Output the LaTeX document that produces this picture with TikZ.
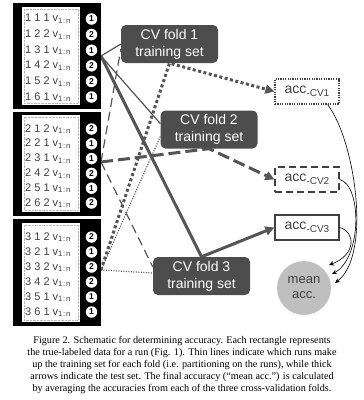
\documentclass[tikz,border=0pt]{standalone}
\usepackage{fontspec}
\setmainfont{Liberation Serif}
\newfontfamily\arial{Liberation Sans}
\usetikzlibrary{arrows.meta,calc,backgrounds}
\definecolor{dk}{HTML}{4D4D4D}
\definecolor{ln}{HTML}{555555}
\definecolor{tx}{HTML}{404040}
\definecolor{lg}{HTML}{BFBFBF}
\newcommand{\acclabel}[1]{{\arial\fontsize{14}{16}\selectfont acc}{\arial\fontsize{10}{12}\selectfont\raisebox{-2.5pt}{-CV#1}}}
\newcommand{\vsub}{v\textsubscript{1\kern0.7pt:\kern0.7pt n}}
\begin{document}
\begin{tikzpicture}[x=1pt,y=-1pt,
  panel/.style={fill=black,inner sep=0,outer sep=0,minimum width=88pt,anchor=north west},
  whitebox/.style={fill=white,inner sep=0,outer sep=0,minimum width=58pt,anchor=north west},
  rowtxt/.style={anchor=west,inner sep=0,text=tx,font=\arial\fontsize{11}{13}\selectfont},
  num/.style={circle,fill=white,inner sep=0,minimum size=11.5pt,text=black,font=\arial\bfseries\fontsize{8.5}{9}\selectfont},
  fold/.style={fill=dk,rounded corners=5pt,minimum width=97pt,minimum height=38pt,inner sep=0,align=center,text=white,font=\arial\fontsize{14}{17}\selectfont},
  accbox/.style={fill=white,draw=tx,line width=1.2pt,minimum width=64pt,minimum height=25pt,inner sep=0,text=tx},
  meanc/.style={circle,fill=lg,minimum size=54pt,inner sep=0,align=center,text=tx,font=\arial\fontsize{13}{15}\selectfont},
  trainln/.style={draw=ln,line width=1.2pt},
  testln/.style={draw=ln,line width=3pt},
  dotA/.style={dash pattern=on 3pt off 2.5pt},
  dotB/.style={dash pattern=on 1pt off 1.5pt},
  dashA/.style={dash pattern=on 12pt off 5pt},
  dashB/.style={dash pattern=on 9pt off 5pt},
  tip/.style={-{Triangle[length=9pt,width=9pt]}},
  meanarrow/.style={draw=black,line width=0.6pt,-{Stealth[length=5pt,width=4.5pt]}}
]
\useasboundingbox (0,0) rectangle (364,400);

% panels
\node[panel,minimum height=106pt] (p1) at (13,3) {};
\node[panel,minimum height=104pt] (p2) at (13,112) {};
\node[panel,minimum height=107pt] (p3) at (13,219) {};
\node[whitebox,minimum height=98pt] (w1) at (22,7) {};
\node[whitebox,minimum height=97pt] (w2) at (22,115) {};
\node[whitebox,minimum height=99pt] (w3) at (22,223) {};
\foreach \w in {w1,w2,w3}{
  \draw[gray!55,densely dotted] ($(\w.north west)+(2,2)$) rectangle ($(\w.south east)+(-2,-2)$);
}
\foreach \a/\b [count=\i from 0] in {1 1 1/1,1 2 2/2,1 3 1/1,1 4 2/2,1 5 2/2,1 6 1/1}{
  \node[rowtxt] (ra\i) at (25,19+15.6*\i) {\a\ \vsub};
  \node[num] (ca\i) at (91.5,19+15.6*\i) {\b};
}
\foreach \a/\b [count=\i from 0] in {2 1 2/2,2 2 1/1,2 3 1/1,2 4 2/2,2 5 1/1,2 6 2/2}{
  \node[rowtxt] (rb\i) at (25,129+14.8*\i) {\a\ \vsub};
  \node[num] (cb\i) at (91.5,129+14.8*\i) {\b};
}
\foreach \a/\b [count=\i from 0] in {3 1 2/2,3 2 1/1,3 3 2/2,3 4 2/2,3 5 1/1,3 6 1/1}{
  \node[rowtxt] (rc\i) at (25,237+15*\i) {\a\ \vsub};
  \node[num] (cc\i) at (91.5,237+15*\i) {\b};
}
\coordinate (e1) at (101,56);
\coordinate (e2) at (101,162);
\coordinate (e3) at (101,270);

% fold boxes
\node[fold] (f1) at (169.5,44) {CV fold 1\\training set};
\node[fold] (f2) at (209,129.5) {CV fold 2\\training set};
\node[fold] (f3) at (201.5,276) {CV fold 3\\training set};

% acc boxes
\node[accbox,dash pattern=on 1.2pt off 1.2pt] (acc1) at (307,91.5) {\acclabel{1}};
\node[accbox,dash pattern=on 7pt off 4pt] (acc2) at (307,179.5) {\acclabel{2}};
\node[accbox] (acc3) at (307,227.5) {\acclabel{3}};
\node[meanc] (mean) at (304,288) {mean\\acc.};

\begin{pgfonlayer}{background}
% training (thin)
\draw[trainln] (e1) -- (f1.west);
\draw[trainln] (e1) -- ($(f2.west)+(0,-6)$);
\draw[trainln,dashB] (e2) -- ($(f1.west)+(0,5)$);
\draw[trainln,dashB] (e2) -- ($(f3.west)+(0,-9)$);
\draw[trainln,dotB] (e3) -- ($(f2.west)+(0,7)$);
\draw[trainln,dotB] (e3) -- ($(f3.west)+(0,-3)$);
% test (thick)
\draw[testln,tip] (e1) -- (f3.north) -- (acc3.west);
\draw[testln,dashA,tip] (e2) -- (f2.south) -- (acc2.west);
\draw[testln,dotA,tip] (e3) -- (f1.south) -- (acc1.west);
\end{pgfonlayer}

% to mean
\coordinate (m1) at (335,283);
\coordinate (m2) at (332,274);
\coordinate (m3) at (329,265);
\draw[meanarrow] ($(acc1.south east)+(-12,0)$) .. controls (355,140) and (372,255) .. (m1);
\draw[meanarrow] (acc2.east) .. controls (362,185) and (362,258) .. (m2);
\draw[meanarrow] (acc3.east) .. controls (356,232) and (356,255) .. (m3);

% caption
\node[font=\fontsize{10.2}{11.9}\selectfont,align=center,inner sep=0] (cap) at (182,365) {Figure 2. Schematic for determining accuracy. Each rectangle represents\\
the true-labeled data for a run (Fig. 1). Thin lines indicate which runs make\\
up the training set for each fold (i.e. partitioning on the runs), while thick\\
arrows indicate the test set. The final accuracy (“mean acc.”) is calculated\\
by averaging the accuracies from each of the three cross-validation folds.};
\end{tikzpicture}
\end{document}
